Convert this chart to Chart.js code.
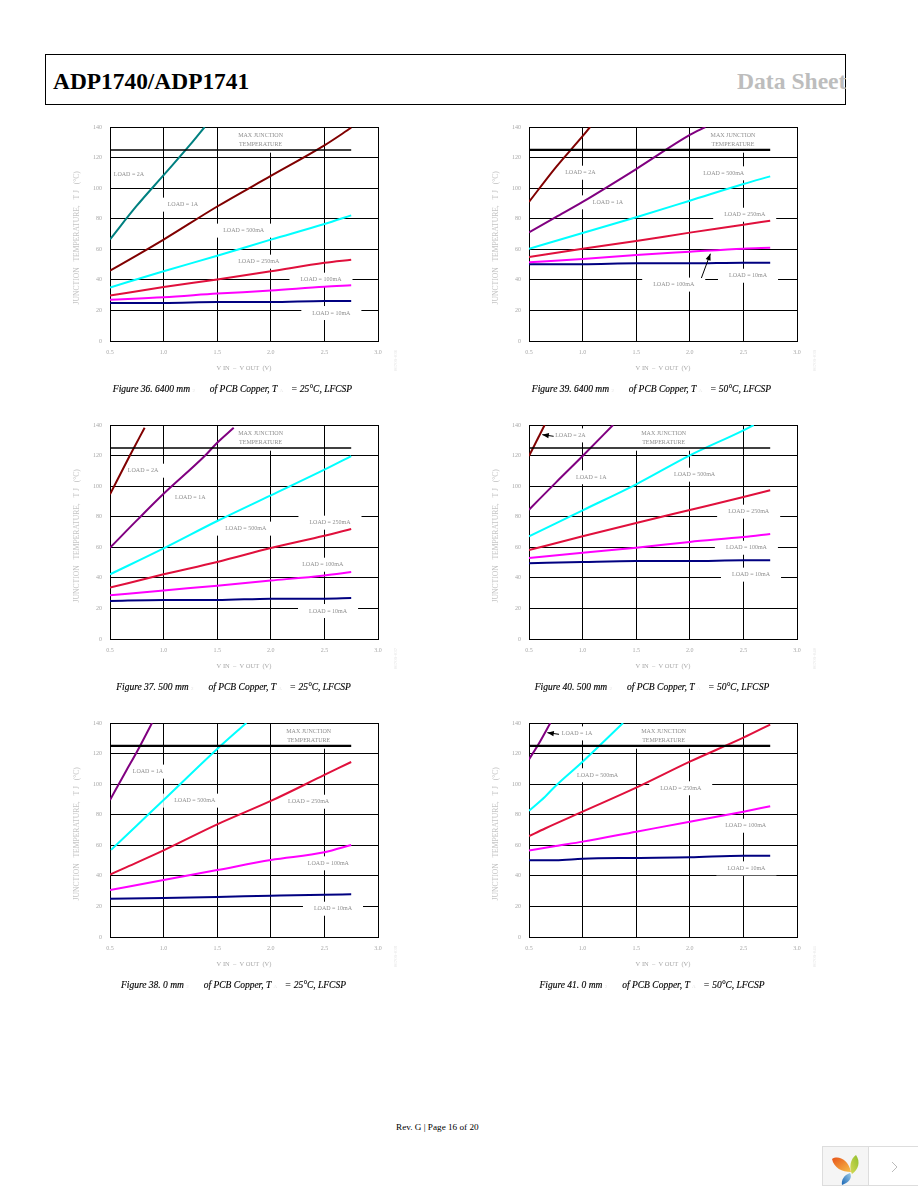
<!DOCTYPE html>
<html>
<head>
<meta charset="utf-8">
<script src="https://cdn.jsdelivr.net/npm/chart.js@4"></script>
<style>
html,body{margin:0;padding:0;background:#fff;}
body{width:918px;height:1188px;position:relative;overflow:hidden;font-family:"Liberation Serif",serif;}
.abs{position:absolute;}
canvas{position:absolute;display:block;}
#hbox{left:45px;top:54px;width:799px;height:49px;border:1px solid #000;}
#h1{left:53px;top:68px;font:bold 23.4px "Liberation Serif",serif;color:#000;white-space:nowrap;}
#h2{left:737px;top:68px;width:109px;overflow:hidden;font:bold 23.6px "Liberation Serif",serif;color:#bdbdbd;white-space:nowrap;}
.cap{font:italic 9.5px "Liberation Serif",serif;color:#000;white-space:nowrap;transform:translate(-50%,-50%);-webkit-text-stroke:.15px #000;}
.cap i{font-style:normal;color:#e4e4e4;font-size:5px;display:inline-block;-webkit-text-stroke:0;}
.code{font:5px "Liberation Serif",serif;color:#e6e6e6;transform:rotate(-90deg);transform-origin:center;white-space:nowrap;}
#foot{left:396px;top:1122px;font:9.2px "Liberation Serif",serif;color:#000;white-space:nowrap;}
#widget{left:822px;top:1146px;width:96px;height:38px;border:1px solid #ddd;border-right:none;}
#wl{position:absolute;left:0;top:0;width:45px;height:38px;background:#f5f5f5;border-right:1px solid #ddd;}
</style>
</head>
<body>
<div class="abs" id="hbox"></div>
<div class="abs" id="h1">ADP1740/ADP1741</div>
<div class="abs" id="h2">Data Sheet</div>
<div id="charts"></div>
<div class="abs" id="foot">Rev. G | Page 16 of 20</div>
<div class="abs" id="widget"><div id="wl"></div></div>
<svg class="abs" style="left:828px;top:1150px" width="36" height="36" viewBox="0 0 36 36">
<defs>
<linearGradient id="go" x1="0" y1="0" x2="1" y2="1"><stop offset="0" stop-color="#e8541a"/><stop offset="1" stop-color="#f6c04a"/></linearGradient>
<linearGradient id="gg" x1="1" y1="0" x2="0" y2="1"><stop offset="0" stop-color="#8fbe2c"/><stop offset="1" stop-color="#d6da58"/></linearGradient>
<linearGradient id="gb" x1="1" y1="0" x2="0" y2="1"><stop offset="0" stop-color="#9ccbe8"/><stop offset="1" stop-color="#1a66b4"/></linearGradient>
</defs>
<path d="M4 9 C10 5 20 9 23 22 C14 22 6 18 4 9Z" fill="url(#go)"/>
<path d="M28 5 C33 12 30 20 24 24 C21 18 22 9 28 5Z" fill="url(#gg)"/>
<path d="M22 23 C25 28 20 33 14 35 C13 30 16 25 22 23Z" fill="url(#gb)"/>
</svg>
<svg class="abs" style="left:888px;top:1158px" width="14" height="18" viewBox="0 0 14 18"><path d="M4 4 L9 9 L4 14" fill="none" stroke="#bbb" stroke-width="1"/></svg>

<script>
// ---- shared axis values ----
const xTickValues = [0.5, 1.0, 1.5, 2.0, 2.5, 3.0];
const yTickValues = [0, 20, 40, 60, 80, 100, 120, 140];
const voltage = [0.5, 1.0, 1.5, 2.0, 2.5, 2.75];
const maxJunctionX = [0.5, 2.75];
const maxJunctionY = [125, 125];

// ---- Figure 36 ----
const f36_2A_x = [0.5, 0.75, 1.0, 1.25, 1.383];
const f36_2A_y = [66.5, 88.5, 108.5, 128.6, 140];
const f36_1A_x = [0.5, 0.75, 1.0, 1.5, 2.0, 2.5, 2.75];
const f36_1A_y = [46, 56, 66.3, 88, 108, 128, 139.5];
const f36_500 = [35, 45.6, 55.8, 66.3, 76.5, 82.2];
const f36_250 = [29.7, 35.3, 40.3, 45.6, 51.2, 53.2];
const f36_100 = [27, 28.6, 31, 33, 35.5, 36.4];
const f36_10 = [24.9, 24.9, 25.5, 25.5, 26.2, 26.2];

// ---- Figure 39 ----
const f39_2A_x = [0.5, 0.75, 1.0, 1.07];
const f39_2A_y = [91, 113.6, 134, 140];
const f39_1A_x = [0.5, 0.75, 1.0, 1.5, 2.0, 2.145];
const f39_1A_y = [71, 81, 91, 112.5, 134.8, 140];
const f39_500 = [60.4, 70.6, 81, 91.8, 102.7, 107.7];
const f39_250 = [55, 60.4, 65.4, 70.9, 76, 78.7];
const f39_100 = [51.5, 53.6, 56.3, 58.4, 60.4, 61];
const f39_10 = [50.2, 50.2, 50.8, 50.8, 51.2, 51.2];

// ---- Figure 37 ----
const f37_2A_x = [0.5, 0.683, 0.823];
const f37_2A_y = [94.6, 119.7, 138.2];
const f37_1A_x = [0.5, 0.75, 1.0, 1.383, 1.5, 1.654];
const f37_1A_y = [59.7, 77.6, 95, 119.7, 128.4, 138.2];
const f37_500 = [42.3, 59.3, 77.2, 94, 110.8, 119.7];
const f37_250 = [33.6, 42.3, 50.4, 59.5, 67.6, 72];
const f37_100 = [28.6, 31.8, 34.9, 38.2, 41.6, 43.8];
const f37_10 = [24.9, 25.5, 25.5, 26.4, 26.4, 26.8];

// ---- Figure 40 ----
const f40_2A_x = [0.5, 0.646];
const f40_2A_y = [119.7, 140];
const f40_1A_x = [0.5, 0.75, 1.0, 1.284];
const f40_1A_y = [84.6, 102.3, 119.7, 140];
const f40_500_x = [0.5, 1.0, 1.5, 2.0, 2.5, 2.596];
const f40_500_y = [67.2, 84.2, 101.2, 120.1, 136.5, 140];
const f40_250 = [58.2, 67.2, 75.9, 84.4, 92.9, 97.3];
const f40_100 = [53, 56.5, 59.7, 63.5, 66.7, 68.7];
const f40_10 = [49.6, 50.4, 51, 51, 51.5, 51.5];

// ---- Figure 38 ----
const f38_1A_x = [0.5, 0.65, 0.75, 0.892];
const f38_1A_y = [89.6, 108.6, 121, 140];
const f38_500_x = [0.51, 0.75, 1.0, 1.5, 1.772];
const f38_500_y = [57, 73, 89.6, 123, 140];
const f38_250_x = [0.5, 0.65, 1.0, 1.5, 2.0, 2.5, 2.75];
const f38_250_y = [40.8, 45.6, 56.7, 73.7, 89, 106, 114.5];
const f38_100 = [30.7, 37.3, 43.8, 50.4, 55.4, 60.2];
const f38_10 = [25, 25.5, 26.2, 27, 27.7, 27.9];

// ---- Figure 41 ----
const f41_1A_x = [0.5, 0.584, 0.699];
const f41_1A_y = [116.2, 125.6, 140];
const f41_500_x = [0.5, 0.65, 0.75, 1.0, 1.377];
const f41_500_y = [82.6, 91.8, 99, 114.7, 140];
const f41_250_x = [0.5, 0.65, 1.0, 1.5, 2.0, 2.5, 2.75];
const f41_250_y = [66, 71, 82, 97.7, 114.7, 130.4, 139];
const f41_100_x = [0.5, 0.75, 1.0, 1.5, 2.0, 2.5, 2.75];
const f41_100_y = [56.5, 59.5, 62.4, 68.9, 75.4, 82, 85.5];
const f41_10_x = [0.5, 0.75, 1.0, 1.5, 2.0, 2.5, 2.75];
const f41_10_y = [50.2, 50.2, 51.2, 51.7, 52.1, 53.2, 53.2];

// ---- text ----
const yAxisTitle = "JUNCTION   TEMPERATURE,   T J   (°C)\u00a0\u00a0\u00a0\u00a0";
const xAxisTitle = "V IN  –  V OUT  (V)";
const maxLines = ["MAX JUNCTION", "TEMPERATURE"];

const C = {teal:"#008080", maroon:"#800000", purple:"#800080", cyan:"#00ffff", red:"#e0103c", pink:"#ff00ff", navy:"#000080"};
const pair = (xs, ys) => ys.map((y, i) => ({x: xs[i], y}));
const S = (name, color, xs, ys) => ({name, color, data: pair(xs, ys)});

const figures = [
 {title:["Figure 36. 6400 mm","2"," of PCB Copper, T","A"," = 25°C, LFCSP"], code:"036", col:0, row:0, capX:232.5, maxW:1.4,
  series:[S("2A",C.teal,f36_2A_x,f36_2A_y),S("1A",C.maroon,f36_1A_x,f36_1A_y),S("500mA",C.cyan,voltage,f36_500),S("250mA",C.red,voltage,f36_250),S("100mA",C.pink,voltage,f36_100),S("10mA",C.navy,voltage,f36_10)],
  notes:{max:[1.905,131.7],"2A":[.677,108.8],"1A":[1.18,89.2],"500mA":[1.747,72.2],"250mA":[1.887,51.9],"100mA":[2.468,40.1],"10mA":[2.565,18.3]}},
 {title:["Figure 39. 6400 mm","2"," of PCB Copper, T","A"," = 50°C, LFCSP"], code:"039", col:1, row:0, capX:651.5, maxW:2.2,
  series:[S("2A",C.maroon,f39_2A_x,f39_2A_y),S("1A",C.purple,f39_1A_x,f39_1A_y),S("500mA",C.cyan,voltage,f39_500),S("250mA",C.red,voltage,f39_250),S("100mA",C.pink,voltage,f39_100),S("10mA",C.navy,voltage,f39_10)],
  notes:{max:[2.403,131.7],"2A":[.979,110.1],"1A":[1.237,90.7],"500mA":[2.316,109.7],"250mA":[2.512,82.6],"100mA":[1.85,36.9],"10mA":[2.543,42.7]},
  arrow:[2.108,41.2,2.192,57.1]},
 {title:["Figure 37. 500 mm","2"," of PCB Copper, T","A"," = 25°C, LFCSP"], code:"037", col:0, row:1, capX:233.5, maxW:1.4,
  series:[S("2A",C.maroon,f37_2A_x,f37_2A_y),S("1A",C.purple,f37_1A_x,f37_1A_y),S("500mA",C.cyan,voltage,f37_500),S("250mA",C.red,voltage,f37_250),S("100mA",C.pink,voltage,f37_100),S("10mA",C.navy,voltage,f37_10)],
  notes:{max:[1.905,131.7],"2A":[.808,110.1],"1A":[1.249,92.5],"500mA":[1.766,72.2],"250mA":[2.552,76.1],"100mA":[2.484,48.6],"10mA":[2.534,18.3]}},
 {title:["Figure 40. 500 mm","2"," of PCB Copper, T","A"," = 50°C, LFCSP"], code:"040", col:1, row:1, capX:652, maxW:1.4,
  series:[S("2A",C.maroon,f40_2A_x,f40_2A_y),S("1A",C.purple,f40_1A_x,f40_1A_y),S("500mA",C.cyan,f40_500_x,f40_500_y),S("250mA",C.red,voltage,f40_250),S("100mA",C.pink,voltage,f40_100),S("10mA",C.navy,voltage,f40_10)],
  notes:{max:[1.756,131.7],"2A":[.886,133.2],"1A":[1.081,105.8],"500mA":[2.045,107.5],"250mA":[2.549,83.3],"100mA":[2.528,59.7],"10mA":[2.571,42.1]},
  arrow:[.73,132.6,.624,133.7]},
 {title:["Figure 38. 0 mm","2"," of PCB Copper, T","A"," = 25°C, LFCSP"], code:"038", col:0, row:2, capX:233.5, maxW:2.2,
  series:[S("1A",C.purple,f38_1A_x,f38_1A_y),S("500mA",C.cyan,f38_500_x,f38_500_y),S("250mA",C.red,f38_250_x,f38_250_y),S("100mA",C.pink,voltage,f38_100),S("10mA",C.navy,voltage,f38_10)],
  notes:{max:[2.353,131.7],"1A":[.854,108.2],"500mA":[1.29,89.2],"250mA":[2.353,88.5],"100mA":[2.537,48.2],"10mA":[2.58,18.5]}},
 {title:["Figure 41. 0 mm","2"," of PCB Copper, T","A"," = 50°C, LFCSP"], code:"041", col:1, row:2, capX:652, maxW:2.2,
  series:[S("1A",C.purple,f41_1A_x,f41_1A_y),S("500mA",C.cyan,f41_500_x,f41_500_y),S("250mA",C.red,f41_250_x,f41_250_y),S("100mA",C.pink,f41_100_x,f41_100_y),S("10mA",C.navy,f41_10_x,f41_10_y)],
  notes:{max:[1.756,131.7],"1A":[.948,133.2],"500mA":[1.14,105.8],"250mA":[1.915,97.3],"100mA":[2.521,72.8],"10mA":[2.528,44.9]},
  arrow:[.78,132.6,.671,133.7]}
];

const loadText = k => "LOAD = " + k;
const notesPlugin = {
  id: "notes",
  beforeDatasetsDraw(chart, args, opts) {
    const {ctx, chartArea: a, scales: {x, y}} = chart;
    ctx.save();
    ctx.beginPath();
    ctx.rect(a.left + 1, a.top + 1, a.right - a.left - 2, a.bottom - a.top - 2);
    ctx.clip();
    ctx.font = '6px "Liberation Serif", serif';
    ctx.textAlign = "center";
    ctx.textBaseline = "middle";
    const n = opts.items;
    for (const k in n) {
      const cx = x.getPixelForValue(n[k][0]), cy = y.getPixelForValue(n[k][1]);
      ctx.fillStyle = "#fff";
      if (k === "max") {
        ctx.fillRect(cx - 30, cy - 13, 60, 26);
      } else {
        const w = ctx.measureText(loadText(k)).width;
        ctx.fillRect(cx - w / 2 - 11, cy - 7, w + 22, 14);
      }
    }
    ctx.fillStyle = "#8f8f8f";
    for (const k in n) {
      const cx = x.getPixelForValue(n[k][0]), cy = y.getPixelForValue(n[k][1]);
      if (k === "max") {
        ctx.fillText(maxLines[0], cx, cy - 4);
        ctx.fillText(maxLines[1], cx, cy + 4.5);
      } else ctx.fillText(loadText(k), cx, cy);
    }
    ctx.restore();
  },
  afterDatasetsDraw(chart, args, opts) {
    const r = opts.arrow;
    if (!r) return;
    const {ctx, scales: {x, y}} = chart;
    const x0 = x.getPixelForValue(r[0]), y0 = y.getPixelForValue(r[1]);
    const x1 = x.getPixelForValue(r[2]), y1 = y.getPixelForValue(r[3]);
    const t = Math.atan2(y1 - y0, x1 - x0);
    ctx.save();
    ctx.strokeStyle = ctx.fillStyle = "#000";
    ctx.lineWidth = 1;
    ctx.beginPath(); ctx.moveTo(x0, y0); ctx.lineTo(x1, y1); ctx.stroke();
    ctx.beginPath(); ctx.moveTo(x1, y1);
    ctx.lineTo(x1 - 7 * Math.cos(t - .38), y1 - 7 * Math.sin(t - .38));
    ctx.lineTo(x1 - 7 * Math.cos(t + .38), y1 - 7 * Math.sin(t + .38));
    ctx.closePath(); ctx.fill();
    ctx.restore();
  }
};

const colLeft = [60, 479], rowTop = [115, 413, 711];
const FONT = "Liberation Serif";
const GREY = "#a8a8a8";
const holder = document.getElementById("charts");

figures.forEach(f => {
  const L = colLeft[f.col], T = rowTop[f.row];
  const cv = document.createElement("canvas");
  cv.width = 340; cv.height = 285;
  cv.style.left = L + "px"; cv.style.top = T + "px";
  holder.appendChild(cv);

  const cap = document.createElement("div");
  cap.className = "abs cap";
  cap.style.left = f.capX + "px"; cap.style.top = (T + 273.5) + "px";
  cap.innerHTML = f.title[0] + ' <i style="width:15px">' + f.title[1] + "</i>" + f.title[2] + ' <i style="width:9px">' + f.title[3] + "</i>" + f.title[4];
  document.body.appendChild(cap);

  const code = document.createElement("div");
  code.className = "abs code";
  code.style.left = (L + 325) + "px"; code.style.top = (T + 243) + "px";
  code.textContent = "06709-" + f.code;
  document.body.appendChild(code);

  const datasets = [
    {data: pair(maxJunctionX, maxJunctionY), borderColor: "#000", borderWidth: f.maxW},
    ...f.series.map(s => ({label: s.name, data: s.data, borderColor: s.color, borderWidth: 2, cubicInterpolationMode: "monotone"}))
  ];
  new Chart(cv, {
    type: "line",
    data: {datasets},
    plugins: [notesPlugin],
    options: {
      responsive: false, animation: false, devicePixelRatio: 1,
      parsing: false, normalized: false,
      layout: {padding: {top: 12, right: 22, left: 0, bottom: 0}},
      elements: {point: {radius: 0}, line: {tension: 0, borderCapStyle: "butt"}},
      plugins: {legend: {display: false}, tooltip: {enabled: false}, notes: {items: f.notes, arrow: f.arrow}},
      scales: {
        x: {
          type: "linear", min: 0.5, max: 3.0,
          afterBuildTicks: s => { s.ticks = xTickValues.map(v => ({value: v})); },
          afterFit: s => { s.height = 59; },
          grid: {color: "#000", lineWidth: 1, drawTicks: false},
          border: {color: "#000", width: 1},
          ticks: {color: GREY, font: {family: FONT, size: 6}, padding: 8, maxRotation: 0, autoSkip: false, callback: v => v.toFixed(1)},
          title: {display: true, text: xAxisTitle, color: GREY, font: {family: FONT, size: 6.5}, padding: {top: 0, bottom: 28}}
        },
        y: {
          type: "linear", min: 0, max: 140,
          afterBuildTicks: s => { s.ticks = yTickValues.map(v => ({value: v})); },
          afterFit: s => { s.width = 50; },
          grid: {color: "#000", lineWidth: 1, drawTicks: false},
          border: {color: "#000", width: 1},
          ticks: {color: GREY, font: {family: FONT, size: 6}, padding: 8, autoSkip: false, callback: v => String(v)},
          title: {display: true, text: yAxisTitle, color: "#c4c4c4", font: {family: FONT, size: 7.6}, padding: {top: 12, bottom: 0}}
        }
      }
    }
  });
});
</script>
</body>
</html>
